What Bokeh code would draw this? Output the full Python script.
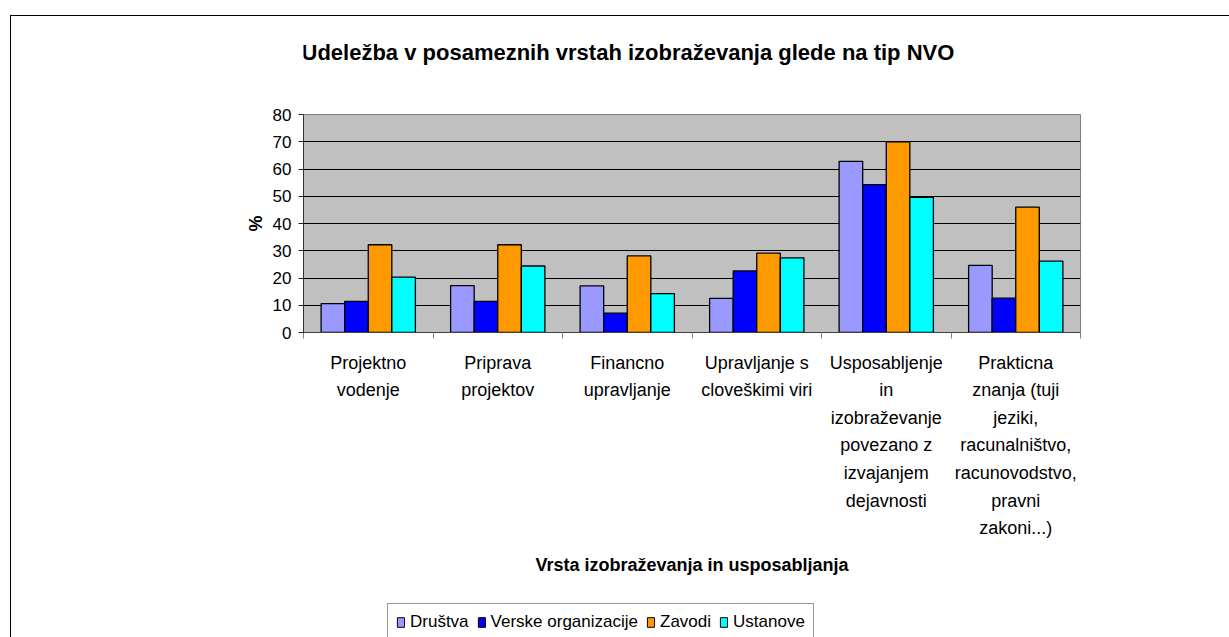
import numpy as np
from bokeh.plotting import figure
from bokeh.layouts import column
from bokeh.models import (Range1d, FixedTicker, CustomJSTickFormatter, Label,
                          Legend, LegendItem, ColumnDataSource)
from bokeh.embed import file_html
from bokeh.resources import INLINE

# ---------------- data ----------------
categories = [
    "Projektno vodenje",
    "Priprava projektov",
    "Financno upravljanje",
    "Upravljanje s cloveškimi viri",
    "Usposabljenje in izobraževanje povezano z izvajanjem dejavnosti",
    "Prakticna znanja (tuji jeziki, racunalništvo, racunovodstvo, pravni zakoni...)",
]
category_labels = [
    "Projektno\nvodenje",
    "Priprava\nprojektov",
    "Financno\nupravljanje",
    "Upravljanje s\ncloveškimi viri",
    "Usposabljenje\nin\nizobraževanje\npovezano z\nizvajanjem\ndejavnosti",
    "Prakticna\nznanja (tuji\njeziki,\nracunalništvo,\nracunovodstvo,\npravni\nzakoni...)",
]
series_names = ["Društva", "Verske organizacije", "Zavodi", "Ustanove"]
drustva = [10.6, 17.2, 17.1, 12.5, 62.8, 24.6]
verske = [11.4, 11.4, 7.1, 22.6, 54.3, 12.6]
zavodi = [32.2, 32.2, 28.1, 29.1, 70.0, 46.0]
ustanove = [20.3, 24.4, 14.3, 27.4, 49.6, 26.2]
series_values = [drustva, verske, zavodi, ustanove]
y_ticks = [0, 10, 20, 30, 40, 50, 60, 70, 80]

title_text = "Udeležba v posameznih vrstah izobraževanja glede na tip NVO"
x_title = "Vrsta izobraževanja in usposabljanja"
y_title = "%"

# ---------------- style ----------------
colors = ["#9999FF", "#0000FF", "#FF9900", "#00FFFF"]
FONT = "Liberation Sans"
n = len(categories)
bar_w = 0.182
W = 1219          # width of every strip
FRAME_W = 776     # width of the (shared, aligned) plot frame


def strip(height, yr, top_border=False):
    f = figure(width=W, height=height, output_backend="svg",
               toolbar_location=None, x_axis_location=None,
               y_axis_location=None, min_border=0,
               x_range=Range1d(0, FRAME_W), y_range=yr)
    f.xgrid.visible = False
    f.ygrid.visible = False
    f.outline_line_color = None
    f.background_fill_color = "white"
    f.border_fill_color = "white"
    st = {"border-left": "1px solid black"}
    if top_border:
        st["border-top"] = "1px solid black"
    f.styles = st
    return f


# ---------- title strip ----------
p0 = strip(84, Range1d(0, 84), top_border=True)
p0.margin = (15, 0, 0, 10)
p0.add_layout(Label(x=324, y=48, text=title_text, text_font=FONT,
                    text_font_size="22px", text_font_style="bold",
                    text_color="black", text_align="center",
                    text_baseline="middle"))

# ---------- main chart ----------
p = figure(width=W, height=500, output_backend="svg", toolbar_location=None,
           x_range=Range1d(0, n), y_range=Range1d(0, y_ticks[-1]),
           min_border_left=292, min_border_right=150,
           min_border_top=15, min_border_bottom=267, title=None)
p.margin = (0, 0, 0, 10)
p.styles = {"border-left": "1px solid black"}
p.background_fill_color = "#C0C0C0"
p.border_fill_color = "white"
p.outline_line_color = "#808080"
p.outline_line_width = 1

p.xgrid.visible = False
p.ygrid.grid_line_color = "black"
p.ygrid.grid_line_width = 1
p.ygrid.ticker = FixedTicker(ticks=y_ticks)

idx = np.arange(n)
sources = []
for k, vals in enumerate(series_values):
    src = ColumnDataSource(dict(x=idx + 0.5 + (k - 1.5) * bar_w, top=vals))
    sources.append(src)
    p.vbar(x="x", top="top", bottom=0, width=bar_w, source=src,
           fill_color=colors[k], line_color="black", line_width=1.3)

ya = p.yaxis[0]
ya.ticker = FixedTicker(ticks=y_ticks)
ya.major_tick_out = 5
ya.major_tick_in = 0
ya.major_tick_line_color = "#222222"
ya.minor_tick_line_color = None
ya.axis_line_color = "#333333"
ya.major_label_text_font = FONT
ya.major_label_text_font_size = "17px"
ya.major_label_text_color = "black"
ya.major_label_standoff = 7
ya.axis_label = y_title
ya.axis_label_text_font = FONT
ya.axis_label_text_font_size = "18px"
ya.axis_label_text_font_style = "bold"
ya.axis_label_text_color = "black"
ya.axis_label_standoff = 4

xa = p.xaxis[0]
xa.ticker = FixedTicker(ticks=list(idx + 0.5), minor_ticks=list(range(n + 1)))
xa.formatter = CustomJSTickFormatter(args=dict(labels=category_labels),
                                     code="return labels[Math.floor(tick)]")
xa.major_tick_line_color = None
xa.major_tick_out = 0
xa.major_tick_in = 0
xa.minor_tick_out = 6
xa.minor_tick_in = 0
xa.minor_tick_line_color = "#808080"
xa.axis_line_color = "#404040"
xa.major_label_text_font = FONT
xa.major_label_text_font_size = "18px"
xa.major_label_text_color = "black"
xa.major_label_text_line_height = 1.38
xa.major_label_standoff = 14
xa.axis_label = x_title
xa.axis_label_text_font = FONT
xa.axis_label_text_font_size = "18px"
xa.axis_label_text_font_style = "bold"
xa.axis_label_text_color = "black"
xa.axis_label_standoff = 14

# ---------- legend strip ----------
# the series are re-plotted here only to feed the legend swatches; the
# strip's y range lies above every value, so these bars are not shown
p2 = strip(45, Range1d(y_ticks[-1] + 20, y_ticks[-1] + 65))
p2.margin = (0, 0, 0, 10)
items = []
for k, name in enumerate(series_names):
    r = p2.vbar(x="x", top="top", bottom=0, width=bar_w, source=sources[k],
                fill_color=colors[k], line_color="black", line_width=1)
    items.append(LegendItem(label=name, renderers=[r]))
legend = Legend(items=items, location=(84, 3), orientation="horizontal",
                label_text_font=FONT, label_text_font_size="17px",
                label_text_color="black", glyph_width=9, glyph_height=12,
                label_height=20, label_standoff=5, spacing=8, padding=8,
                margin=0, border_line_color="#333333", border_line_width=1,
                background_fill_color="white", background_fill_alpha=1)
p2.add_layout(legend)

layout = column(p0, p, p2, spacing=0)
open("out.html", "w").write(file_html(layout, INLINE))
